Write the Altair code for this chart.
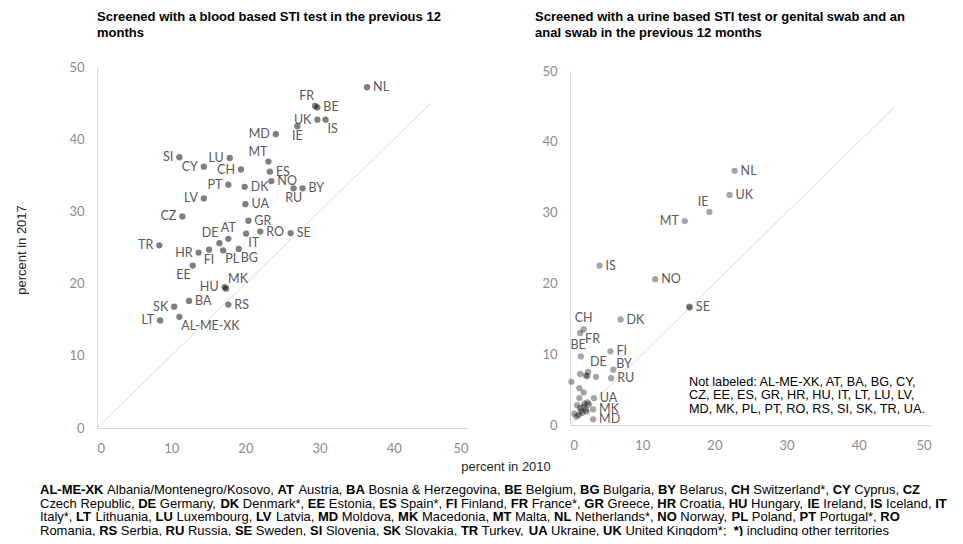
import re
import altair as alt
import pandas as pd

# ---------------- data ----------------
LEFT_CODES = ["NL", "FR", "BE", "UK", "IS", "IE", "MD", "MT", "ES", "NO", "RU", "BY", "DK", "PT",
              "CH", "CY", "LU", "SI", "LV", "UA", "CZ", "GR", "AT", "DE", "IT", "RO", "SE", "TR",
              "HR", "FI", "PL", "BG", "EE", "HU", "MK", "BA", "SK", "RS", "LT", "AL-ME-XK"]
LEFT_2010 = [36.4, 29.4, 29.7, 29.7, 30.8, 27.0, 24.1, 23.1, 23.3, 23.5, 26.5, 27.7, 19.9, 17.7,
             19.4, 14.4, 17.9, 11.1, 14.4, 20.0, 11.5, 20.4, 17.7, 16.5, 20.1, 22.0, 26.1, 8.4,
             13.7, 15.1, 17.0, 19.1, 12.9, 17.2, 17.4, 12.4, 10.4, 17.7, 8.5, 11.1]
LEFT_2017 = [47.2, 44.6, 44.4, 42.7, 42.7, 41.8, 40.7, 36.9, 35.5, 34.2, 33.2, 33.2, 33.4, 33.7,
             35.8, 36.2, 37.4, 37.5, 31.8, 31.0, 29.3, 28.7, 26.2, 25.6, 26.9, 27.2, 27.0, 25.3,
             24.3, 24.7, 24.6, 24.8, 22.5, 19.5, 19.3, 17.6, 16.8, 17.1, 14.9, 15.4]

RIGHT_CODES = ["NL", "UK", "IE", "MT", "IS", "NO", "SE", "DK", "CH", "FR", "BE", "FI", "DE", "BY",
               "RU", "UA", "MK", "MD",
               "AL-ME-XK", "AT", "BA", "BG", "CY", "CZ", "EE", "ES", "GR", "HR", "HU", "IT",
               "LT", "LU", "LV", "PL", "PT", "RO", "RS", "SI", "SK", "TR"]
RIGHT_2010 = [22.8, 22.1, 19.3, 15.9, 4.1, 11.8, 16.6, 7.0, 1.9, 1.4, 1.5, 5.6, 2.5, 6.0,
              5.7, 3.3, 3.2, 3.2,
              1.2, 2.2, 0.9, 1.9, 0.2, 1.3, 1.9, 1.4, 3.6, 1.3, 2.2, 2.4,
              0.6, 1.0, 1.7, 2.4, 2.6, 2.0, 2.3, 16.5, 1.5, 1.4]
RIGHT_2017 = [35.9, 32.5, 30.1, 28.8, 22.5, 20.6, 16.6, 14.9, 13.5, 13.0, 9.7, 10.4, 7.5, 7.8,
              6.6, 3.8, 2.2, 0.8,
              1.4, 7.0, 1.2, 2.6, 6.1, 5.2, 4.6, 7.2, 6.8, 3.8, 2.2, 6.9,
              1.6, 2.8, 1.7, 3.2, 2.9, 3.0, 1.9, 16.7, 2.0, 2.4]
RIGHT_LABELED = 18  # first 18 codes are labeled on the chart

DIAG = [0, 45]
TICKS = [0, 10, 20, 30, 40, 50]

TITLE_LEFT = ["Screened with a blood based STI test in the previous 12", "months"]
TITLE_RIGHT = ["Screened with a urine based STI test or genital swab and an",
               "anal swab in the previous 12 months"]
X_TITLE = "percent in 2010"
Y_TITLE = "percent in 2017"
NOTE = ["Not labeled: AL-ME-XK, AT, BA, BG, CY,",
        "CZ, EE, ES, GR, HR, HU, IT, LT, LU, LV,",
        "MD, MK, PL, PT, RO, RS, SI, SK, TR, UA."]
FOOTER = [
    "{AL-ME-XK} Albania/Montenegro/Kosovo, {AT} Austria, {BA} Bosnia & Herzegovina, {BE} Belgium, {BG} Bulgaria, {BY} Belarus, {CH} Switzerland*, {CY} Cyprus, {CZ}",
    "Czech Republic, {DE} Germany, {DK} Denmark*, {EE} Estonia, {ES} Spain*, {FI} Finland, {FR} France*, {GR} Greece, {HR} Croatia, {HU} Hungary, {IE} Ireland, {IS} Iceland, {IT}",
    "Italy*, {LT} Lithuania, {LU} Luxembourg, {LV} Latvia, {MD} Moldova, {MK} Macedonia, {MT} Malta, {NL} Netherlands*, {NO} Norway, {PL} Poland, {PT} Portugal*, {RO}",
    "Romania, {RS} Serbia, {RU} Russia, {SE} Sweden, {SI} Slovenia, {SK} Slovakia, {TR} Turkey, {UA} Ukraine, {UK} United Kingdom*;  {*)} including other territories",
]

# ---------------- label placement (layout) ----------------
LEFT_POS = {"NL": "r", "FR": "tl", "BE": "r", "UK": "l", "IS": "br", "IE": "b", "MD": "l",
            "MT": "tl", "ES": "r", "NO": "r", "RU": "b", "BY": "r", "DK": "r", "PT": "l",
            "CH": "l", "CY": "l", "LU": "l", "SI": "l", "LV": "l", "UA": "r", "CZ": "l",
            "GR": "r", "AT": "t", "DE": "tl", "IT": "br", "RO": "r", "SE": "r", "TR": "l",
            "HR": "l", "FI": "b", "PL": "br", "BG": "br", "EE": "bl", "HU": "l", "MK": "tr",
            "BA": "r", "SK": "l", "RS": "r", "LT": "l", "AL-ME-XK": "br"}
RIGHT_POS = {"NL": "r", "UK": "r", "IE": "tl", "MT": "l", "IS": "r", "NO": "r", "SE": "r",
             "DK": "r", "CH": "t", "FR": "br2", "BE": "tl2", "FI": "r", "DE": "tr", "BY": "tr0",
             "RU": "r", "UA": "r", "MK": "r", "MD": "r"}
PLACE = {
    "r": dict(align="left", baseline="middle", dx=6, dy=0),
    "l": dict(align="right", baseline="middle", dx=-6, dy=0),
    "t": dict(align="center", baseline="bottom", dx=0, dy=-4),
    "b": dict(align="center", baseline="top", dx=0, dy=4),
    "tl": dict(align="right", baseline="bottom", dx=-1, dy=-3),
    "tr": dict(align="left", baseline="bottom", dx=2, dy=-3),
    "tr0": dict(align="left", baseline="bottom", dx=3, dy=1),
    "bl": dict(align="right", baseline="top", dx=-2, dy=3),
    "br": dict(align="left", baseline="top", dx=2, dy=3),
    "br2": dict(align="left", baseline="top", dx=5, dy=0),
    "tl2": dict(align="right", baseline="bottom", dx=5, dy=-4),
}

W, H = 947, 528
LBL_FONT = "Lato"
LBL_COLOR = "#595959"


def panel(codes, xs, ys, pos, xrange, yrange, opacity, n_labeled=None):
    df = pd.DataFrame({"code": codes, "x": xs, "y": ys})
    n = len(codes) if n_labeled is None else n_labeled
    df["pos"] = [pos.get(c, "") if i < n else "" for i, c in enumerate(codes)]
    axis_x = alt.Axis(orient="bottom", offset=yrange[0] - H, values=TICKS, grid=False, ticks=False,
                      domainColor="#d9d9d9", labelColor="#8c8c8c", labelFont=LBL_FONT,
                      labelFontSize=13, labelPadding=14, title=None)
    axis_y = alt.Axis(orient="left", offset=-xrange[0], values=TICKS, grid=False, ticks=False,
                      domainColor="#d9d9d9", labelColor="#8c8c8c", labelFont=LBL_FONT,
                      labelFontSize=13, labelPadding=13, title=None)
    X = alt.X("x:Q", scale=alt.Scale(domain=[0, 50], range=list(xrange), nice=False, zero=False),
              axis=axis_x)
    Y = alt.Y("y:Q", scale=alt.Scale(domain=[0, 50], range=list(yrange), nice=False, zero=False),
              axis=axis_y)
    diag = alt.Chart(pd.DataFrame({"x": DIAG, "y": DIAG})).mark_line(
        color="#d9d9d9", strokeWidth=1).encode(x=X, y=Y)
    pts = alt.Chart(df).mark_circle(size=40, color="black", opacity=opacity).encode(x=X, y=Y)
    layers = [diag, pts]
    for key, p in PLACE.items():
        layers.append(
            alt.Chart(df).transform_filter(alt.datum.pos == key).mark_text(
                font=LBL_FONT, fontSize=12.5, color=LBL_COLOR, **p
            ).encode(x=X, y=Y, text="code:N")
        )
    return alt.layer(*layers)


left = panel(LEFT_CODES, LEFT_2010, LEFT_2017, LEFT_POS, (89, 460), (420, 59), 0.5)
right = panel(RIGHT_CODES, RIGHT_2010, RIGHT_2017, RIGHT_POS, (562, 923), (417, 63), 0.35,
              n_labeled=RIGHT_LABELED)


def ann(text, x, y, **kw):
    return alt.Chart(pd.DataFrame({"t": [0]})).mark_text(text=text, **kw).encode(
        x=alt.value(x), y=alt.value(y))


anns = []
TF = dict(font="Liberation Sans", fontSize=13, fontWeight="bold", color="black",
          align="left", baseline="alphabetic")
for i, t in enumerate(TITLE_LEFT):
    anns.append(ann(t, 89, 13 + 16 * i, **TF))
for i, t in enumerate(TITLE_RIGHT):
    anns.append(ann(t, 527, 13 + 16 * i, **TF))
anns.append(ann(X_TITLE, 498, 459, font="Liberation Sans", fontSize=13, color="#262626",
                align="center", baseline="middle"))
anns.append(ann(Y_TITLE, 14, 242, font="Liberation Sans", fontSize=13, color="#262626",
                align="center", baseline="middle", angle=270))
for i, t in enumerate(NOTE):
    anns.append(ann(t, 681, 377.5 + 13.5 * i, font="Liberation Sans", fontSize=12.7,
                    color="black", align="left", baseline="alphabetic"))

# ---------------- footer with bold codes ----------------
REG_W = {" ": 278, "!": 278, "&": 667, "(": 333, ")": 333, "*": 389, ",": 278, "-": 333,
         ".": 278, "/": 278, ":": 278, ";": 278,
         "A": 667, "B": 667, "C": 722, "D": 722, "E": 667, "F": 611, "G": 778, "H": 722, "I": 278,
         "J": 500, "K": 667, "L": 556, "M": 833, "N": 722, "O": 778, "P": 667, "Q": 778, "R": 722,
         "S": 667, "T": 611, "U": 722, "V": 667, "W": 944, "X": 667, "Y": 667, "Z": 611,
         "a": 556, "b": 556, "c": 500, "d": 556, "e": 556, "f": 278, "g": 556, "h": 556, "i": 222,
         "j": 222, "k": 500, "l": 222, "m": 833, "n": 556, "o": 556, "p": 556, "q": 556, "r": 333,
         "s": 500, "t": 278, "u": 556, "v": 500, "w": 722, "x": 500, "y": 500, "z": 500}
BOLD_W = {" ": 278, "*": 389, "-": 333, ")": 333, ",": 278, ";": 333,
          "A": 722, "B": 722, "C": 722, "D": 722, "E": 667, "F": 611, "G": 778, "H": 722, "I": 278,
          "J": 556, "K": 722, "L": 611, "M": 833, "N": 722, "O": 778, "P": 667, "Q": 778, "R": 722,
          "S": 667, "T": 611, "U": 722, "V": 667, "W": 944, "X": 667, "Y": 667, "Z": 611}
FOOT_FONT = "Liberation Sans"


def em(text, bold):
    tbl = BOLD_W if bold else REG_W
    return sum(tbl.get(c, REG_W.get(c, 556)) for c in text) / 1000.0


def segments(line):
    out = []
    for part in re.split(r"(\{[^}]*\})", line):
        if not part:
            continue
        if part.startswith("{"):
            out.append((part[1:-1], True))
        else:
            out.append((part, False))
    return out


line1_em = sum(em(t, b) for t, b in segments(FOOTER[0]))
FOOT_SIZE = 880.0 / line1_em
rows = []
for li, line in enumerate(FOOTER):
    x = 32.0
    for t, b in segments(line):
        lead = len(t) - len(t.lstrip(" "))
        x_start = x + em(t[:lead], b) * FOOT_SIZE
        if t.strip():
            rows.append({"t": t.strip(), "px": x_start, "py": 486 + 13.5 * li, "bold": b})
        x += em(t, b) * FOOT_SIZE
foot_df = pd.DataFrame(rows)
FX = alt.X("px:Q", scale=None, axis=None)
FY = alt.Y("py:Q", scale=None, axis=None)
foot_reg = alt.Chart(foot_df).transform_filter("!datum.bold").mark_text(
    font=FOOT_FONT, fontSize=FOOT_SIZE, color="black", align="left", baseline="alphabetic"
).encode(x=FX, y=FY, text="t:N")
foot_bold = alt.Chart(foot_df).transform_filter("datum.bold").mark_text(
    font=FOOT_FONT, fontSize=FOOT_SIZE, fontWeight="bold", color="black", align="left",
    baseline="alphabetic"
).encode(x=FX, y=FY, text="t:N")

chart = alt.layer(left, right, *anns, foot_reg, foot_bold).resolve_scale(
    x="independent", y="independent"
).properties(
    width=W, height=H, autosize=alt.AutoSizeParams(type="none"), padding=0
).configure_view(strokeWidth=0)

chart.save("out.html", embed_options={"renderer": "svg", "actions": False})
